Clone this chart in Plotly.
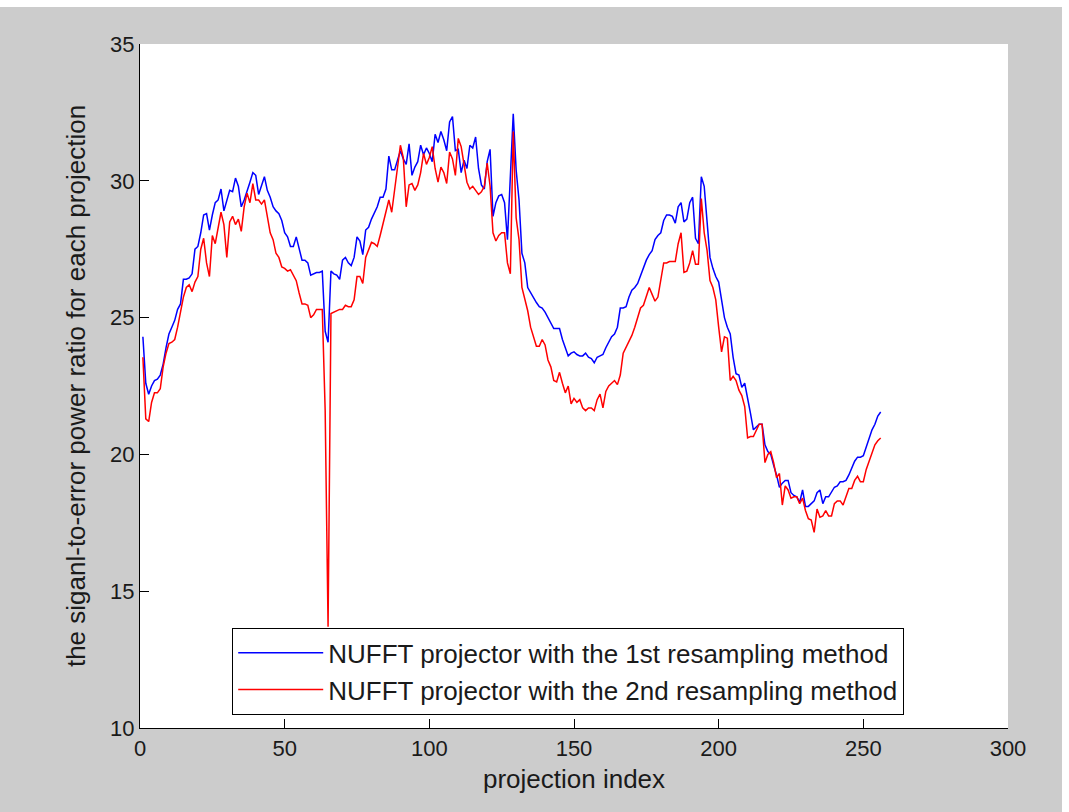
import plotly.graph_objects as go

x_index = list(range(1, 257))

blue_sepr = [
    24.3, 22.6, 22.2, 22.5, 22.7, 22.75, 22.9, 23.3, 23.9, 24.4,
    24.65, 24.9, 25.3, 25.5, 26.4, 26.4, 26.45, 26.6, 27.5, 27.6,
    28.1, 28.75, 28.8, 28.2, 28.75, 29.2, 29.3, 29.7, 28.9, 29.3,
    29.65, 29.6, 30.1, 29.8, 29.05, 29.3, 29.6, 29.95, 30.3, 30.2,
    29.5, 29.8, 30.15, 29.65, 29.4, 29.05, 28.9, 28.8, 28.55, 28.1,
    27.95, 27.6, 27.6, 27.95, 27.5, 27.1, 27.1, 27.0, 26.55, 26.6,
    26.65, 26.65, 26.7, 24.5, 24.1, 26.7, 26.6, 26.55, 26.4, 27.1,
    27.2, 27.0, 26.9, 27.2, 27.95, 27.8, 27.3, 28.2, 28.3, 28.6,
    28.8, 29.05, 29.4, 29.4, 29.7, 30.9, 30.4, 30.4, 30.75, 31.1,
    30.8, 30.6, 31.35, 30.2, 30.5, 30.7, 31.3, 30.95, 31.2, 31.0,
    30.7, 31.7, 31.4, 31.8, 31.5, 31.1, 32.15, 32.35, 31.1, 31.15,
    30.3, 30.75, 30.45, 31.3, 31.2, 31.6, 30.45, 29.85, 29.7, 30.7,
    31.15, 28.7, 29.2, 29.45, 29.5, 29.2, 27.85, 29.9, 32.45, 30.4,
    29.3, 27.35, 27.0, 26.1, 25.9, 25.7, 25.55, 25.4, 25.35, 25.2,
    25.0, 24.8, 24.6, 24.6, 24.6, 24.2, 23.9, 23.6, 23.7, 23.75,
    23.65, 23.6, 23.6, 23.7, 23.55, 23.5, 23.35, 23.55, 23.6, 23.65,
    23.9, 24.1, 24.3, 24.4, 24.65, 25.35, 25.35, 25.4, 25.75, 26.0,
    26.1, 26.25, 26.55, 26.85, 27.1, 27.3, 27.45, 27.85, 28.0, 28.1,
    28.55, 28.75, 28.75, 28.7, 28.45, 29.05, 29.2, 28.5, 28.6, 29.2,
    29.4, 27.9, 27.7, 30.15, 29.8, 28.5, 27.2, 26.8, 26.5, 26.3,
    25.65, 25.0, 24.65, 24.4, 23.55, 22.95, 22.9, 22.45, 22.6, 22.1,
    21.5, 20.9, 21.0, 21.1, 21.1, 20.35, 20.1, 20.0, 19.6, 19.25,
    18.8, 18.95, 19.05, 19.05, 18.6, 18.5, 18.45, 18.25, 18.7, 18.1,
    18.1, 18.2, 18.3, 18.6, 18.7, 18.2, 18.45, 18.45, 18.65, 18.8,
    18.85, 19.0, 19.0, 19.05, 19.25, 19.5, 19.75, 19.9, 19.9, 19.95,
    20.25, 20.55, 20.9, 21.1, 21.4, 21.55,
]

red_sepr = [
    23.55, 21.3, 21.2, 21.9, 22.25, 22.25, 22.4, 23.2, 23.7, 24.05,
    24.1, 24.2, 24.65, 25.2, 25.75, 26.1, 26.2, 25.95, 26.3, 26.5,
    27.5, 27.9, 27.0, 26.5, 28.0, 27.7, 28.3, 28.85, 28.4, 27.2,
    28.5, 28.7, 28.4, 28.6, 28.15, 29.05, 29.55, 29.2, 29.9, 29.3,
    29.3, 29.15, 29.3, 28.75, 28.1, 27.85, 27.35, 27.2, 26.85, 26.8,
    26.7, 26.75, 26.55, 26.35, 25.9, 25.5, 25.5, 25.45, 25.0, 25.1,
    25.3, 25.3, 25.3, 21.6, 13.7, 25.15, 25.2, 25.25, 25.3, 25.3,
    25.45, 25.4, 25.4, 25.65, 26.5, 26.5, 26.25, 27.2, 27.45, 27.75,
    27.7, 27.6, 28.0, 28.45, 28.85, 29.3, 28.85, 29.65, 30.5, 31.3,
    30.85, 29.05, 29.85, 29.9, 29.65, 29.85, 30.3, 31.0, 30.6, 30.85,
    31.25, 30.45, 29.95, 30.5, 30.3, 29.9, 31.05, 30.8, 30.2, 31.55,
    31.25, 30.55, 29.95, 29.7, 29.8, 29.65, 29.5, 29.6, 29.8, 30.65,
    29.8, 28.1, 27.8, 28.0, 28.1, 28.1, 27.0, 26.6, 31.8, 28.65,
    27.85, 26.1, 25.65, 25.25, 24.65, 24.3, 23.95, 23.95, 24.2, 24.0,
    23.45, 23.2, 22.7, 22.65, 23.0, 22.6, 22.25, 22.5, 21.85, 22.05,
    21.9, 22.0, 21.7, 21.6, 21.7, 21.7, 21.6, 22.0, 22.2, 21.7,
    22.3, 22.5, 22.6, 22.7, 22.55, 22.9, 23.7, 23.9, 24.1, 24.35,
    24.65, 25.0, 25.35, 25.45, 25.75, 26.1, 25.85, 25.6, 25.75, 26.35,
    27.0, 27.0, 27.05, 27.05, 27.05, 27.7, 28.1, 26.65, 26.7, 27.0,
    27.45, 26.95, 26.95, 29.35, 28.1, 27.45, 26.35, 26.1, 25.65, 24.65,
    23.75, 24.3, 24.25, 22.7, 22.85, 22.7, 22.35, 22.15, 21.75, 20.6,
    20.65, 20.65, 20.9, 21.1, 21.1, 19.7, 20.0, 20.1, 19.7, 19.15,
    19.3, 18.15, 18.85, 18.7, 18.4, 18.45, 18.45, 18.2, 18.4, 17.95,
    17.65, 17.6, 17.15, 18.0, 17.7, 17.75, 17.95, 17.75, 17.75, 18.2,
    18.3, 18.3, 18.15, 18.45, 18.75, 18.75, 19.05, 19.2, 19.0, 19.0,
    19.45, 19.75, 20.05, 20.35, 20.5, 20.6,
]

series_names = [
    "NUFFT projector with the 1st resampling method",
    "NUFFT projector with the 2nd resampling method",
]
x_ticks = [0, 50, 100, 150, 200, 250, 300]
y_ticks = [10, 15, 20, 25, 30, 35]

FONT = "Liberation Sans, Arial, sans-serif"

fig = go.Figure()
fig.add_trace(go.Scatter(x=x_index, y=blue_sepr, mode="lines", name=series_names[0],
                         line=dict(color="#0000ff", width=1.5)))
fig.add_trace(go.Scatter(x=x_index, y=red_sepr, mode="lines", name=series_names[1],
                         line=dict(color="#ff0000", width=1.5)))

axis_common = dict(showline=True, linecolor="black", linewidth=1.2, mirror=False,
                   ticks="inside", ticklen=9, tickcolor="black", tickwidth=1.2,
                   showgrid=False, zeroline=False,
                   tickfont=dict(family=FONT, size=22, color="#1a1a1a"))

fig.update_xaxes(range=[0, 300], tickvals=x_ticks, **axis_common,
                 title=dict(text="projection index", standoff=10,
                            font=dict(family=FONT, size=26, color="#1a1a1a")))
fig.update_yaxes(range=[10, 35], tickvals=y_ticks, **axis_common,
                 title=dict(text="the siganl-to-error power ratio for each projection", standoff=16,
                            font=dict(family=FONT, size=26, color="#1a1a1a")))

fig.update_layout(
    width=1069, height=812,
    margin=dict(l=140, r=61, t=44, b=84, autoexpand=False),
    paper_bgcolor="#cccccc", plot_bgcolor="white",
    showlegend=True,
    legend=dict(x=0.106, y=0.146, xanchor="left", yanchor="top",
                bgcolor="white", bordercolor="black", borderwidth=1.2,
                font=dict(family=FONT, size=26, color="#1a1a1a"),
                itemwidth=85, tracegroupgap=0),
    shapes=[
        dict(type="rect", xref="paper", yref="paper", x0=-0.2, x1=1.08,
             y0=1.054, y1=1.08, fillcolor="white", line=dict(width=0), layer="below"),
        dict(type="rect", xref="paper", yref="paper", x0=1.0622, x1=1.08,
             y0=-0.2, y1=1.08, fillcolor="white", line=dict(width=0), layer="below"),
    ],
)

fig.write_html("out.html")
